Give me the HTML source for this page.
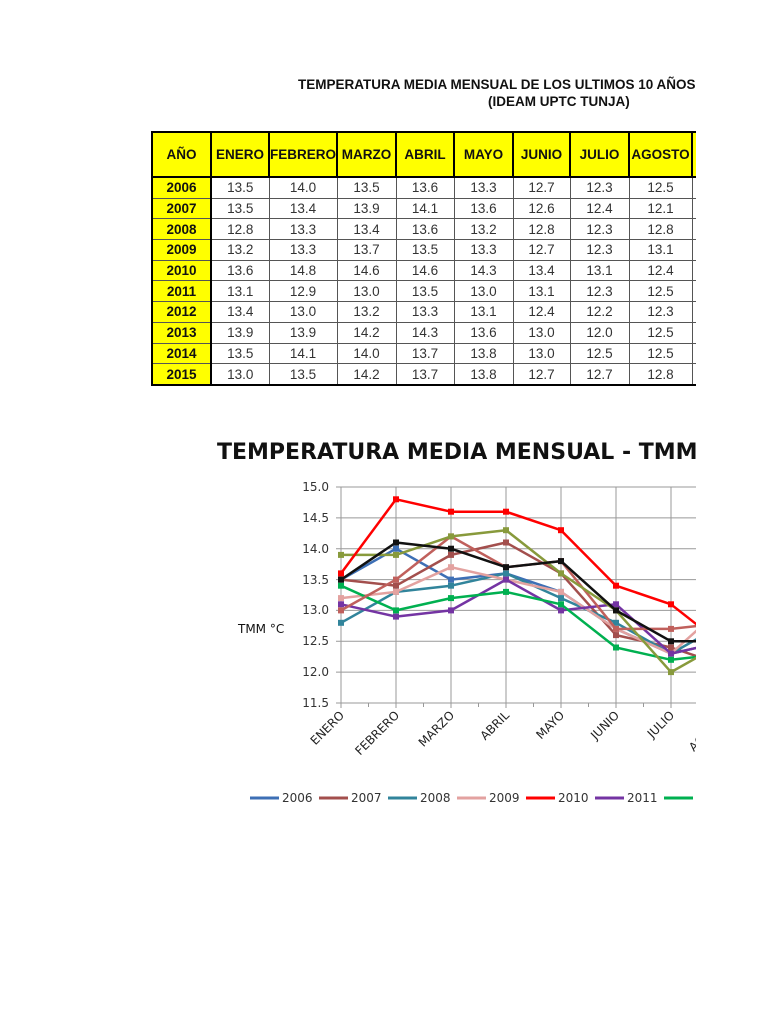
<!DOCTYPE html>
<html><head><meta charset="utf-8">
<style>
body{margin:0;background:#fff;width:768px;height:1024px;overflow:hidden;position:relative;font-family:"Liberation Sans",Arial,sans-serif}
#clip{position:absolute;left:0;top:0;width:696px;height:1024px;overflow:hidden}
.t1{position:absolute;left:298px;top:77px;font-weight:bold;font-size:13.5px;white-space:nowrap;color:#111}
.t2{position:absolute;left:488px;top:94px;font-weight:bold;font-size:13.5px;white-space:nowrap;color:#111}
table{position:absolute;left:151px;top:131px;border-collapse:collapse;table-layout:fixed;border:2px solid #000;width:600px}
td{border:1px solid #555;text-align:center;font-size:13.5px;color:#333;height:19.7px;padding:0;overflow:hidden;white-space:nowrap}
tr.h td{background:#ffff00;font-weight:bold;height:43px;border:2px solid #000;color:#111;font-size:13.5px}
td.y{background:#ffff00;font-weight:bold;color:#111;border-right:2px solid #000}
svg{position:absolute;left:0;top:0}
</style></head><body>
<div id="clip">
<div class="t1">TEMPERATURA MEDIA MENSUAL DE LOS ULTIMOS 10 AÑOS</div>
<div class="t2">(IDEAM UPTC TUNJA)</div>
<table>
<colgroup><col style="width:59px"><col style="width:58px"><col style="width:68px"><col style="width:59px"><col style="width:58px"><col style="width:59px"><col style="width:57px"><col style="width:59px"><col style="width:63px"><col style="width:60px"></colgroup>
<tr class="h"><td>AÑO</td><td>ENERO</td><td>FEBRERO</td><td>MARZO</td><td>ABRIL</td><td>MAYO</td><td>JUNIO</td><td>JULIO</td><td>AGOSTO</td><td>SEPT</td></tr>
<tr><td class="y">2006</td><td>13.5</td><td>14.0</td><td>13.5</td><td>13.6</td><td>13.3</td><td>12.7</td><td>12.3</td><td>12.5</td><td></td></tr>
<tr><td class="y">2007</td><td>13.5</td><td>13.4</td><td>13.9</td><td>14.1</td><td>13.6</td><td>12.6</td><td>12.4</td><td>12.1</td><td></td></tr>
<tr><td class="y">2008</td><td>12.8</td><td>13.3</td><td>13.4</td><td>13.6</td><td>13.2</td><td>12.8</td><td>12.3</td><td>12.8</td><td></td></tr>
<tr><td class="y">2009</td><td>13.2</td><td>13.3</td><td>13.7</td><td>13.5</td><td>13.3</td><td>12.7</td><td>12.3</td><td>13.1</td><td></td></tr>
<tr><td class="y">2010</td><td>13.6</td><td>14.8</td><td>14.6</td><td>14.6</td><td>14.3</td><td>13.4</td><td>13.1</td><td>12.4</td><td></td></tr>
<tr><td class="y">2011</td><td>13.1</td><td>12.9</td><td>13.0</td><td>13.5</td><td>13.0</td><td>13.1</td><td>12.3</td><td>12.5</td><td></td></tr>
<tr><td class="y">2012</td><td>13.4</td><td>13.0</td><td>13.2</td><td>13.3</td><td>13.1</td><td>12.4</td><td>12.2</td><td>12.3</td><td></td></tr>
<tr><td class="y">2013</td><td>13.9</td><td>13.9</td><td>14.2</td><td>14.3</td><td>13.6</td><td>13.0</td><td>12.0</td><td>12.5</td><td></td></tr>
<tr><td class="y">2014</td><td>13.5</td><td>14.1</td><td>14.0</td><td>13.7</td><td>13.8</td><td>13.0</td><td>12.5</td><td>12.5</td><td></td></tr>
<tr><td class="y">2015</td><td>13.0</td><td>13.5</td><td>14.2</td><td>13.7</td><td>13.8</td><td>12.7</td><td>12.7</td><td>12.8</td><td></td></tr>
</table>

<svg width="768" height="1024" id="s" font-family="DejaVu Sans, sans-serif">
<text x="217" y="459" font-size="22" font-weight="bold" fill="#111">TEMPERATURA MEDIA MENSUAL - TMM</text>
<g id="grid" stroke="#999" stroke-width="1"></g>
<g font-size="12" fill="#333" text-anchor="end">
<text x="329" y="491">15.0</text><text x="329" y="522">14.5</text><text x="329" y="553">14.0</text><text x="329" y="584">13.5</text><text x="329" y="614">13.0</text><text x="329" y="645">12.5</text><text x="329" y="676">12.0</text><text x="329" y="707">11.5</text>
</g>
<text x="238" y="633" font-size="12" fill="#111">TMM °C</text>
<g font-size="12" fill="#222" text-anchor="end">
<text transform="translate(345,716) rotate(-45)">ENERO</text>
<text transform="translate(400,716) rotate(-45)">FEBRERO</text>
<text transform="translate(455,716) rotate(-45)">MARZO</text>
<text transform="translate(510,716) rotate(-45)">ABRIL</text>
<text transform="translate(565,716) rotate(-45)">MAYO</text>
<text transform="translate(620,716) rotate(-45)">JUNIO</text>
<text transform="translate(675,716) rotate(-45)">JULIO</text>
<text transform="translate(730,716) rotate(-45)">AGOSTO</text>
</g>
<g id="lines" fill="none" stroke-width="2.5" stroke-linejoin="round"></g>
<g id="leg" font-size="12" fill="#333">
<text x="282" y="802">2006</text><text x="351" y="802">2007</text><text x="420" y="802">2008</text><text x="489" y="802">2009</text><text x="558" y="802">2010</text><text x="627" y="802">2011</text><text x="696" y="802">2012</text>
</g>
</svg>
</div>
<script>
var X=[341,396,451,506,561,616,671,726],top0=487,bot=703;
function Y(v){return top0+(15-v)/3.5*(bot-top0);}
var g=document.getElementById('grid'),h='';
for(var i=0;i<8;i++){var y=top0+i*(bot-top0)/7;h+='<line x1="336" x2="700" y1="'+y+'" y2="'+y+'"/>';}
for(var j=0;j<8;j++){h+='<line x1="'+X[j]+'" x2="'+X[j]+'" y1="'+top0+'" y2="'+(bot+5)+'"/>';}
for(var j=0;j<7;j++){var m=(X[j]+X[j+1])/2;h+='<line x1="'+m+'" x2="'+m+'" y1="'+bot+'" y2="'+(bot+4)+'"/>';}
g.innerHTML=h;
var D=[
["#3d6fb5",[13.5,14.0,13.5,13.6,13.3,12.7,12.3,12.5]],
["#a34f4d",[13.5,13.4,13.9,14.1,13.6,12.6,12.4,12.1]],
["#31849b",[12.8,13.3,13.4,13.6,13.2,12.8,12.3,12.8]],
["#e3a2a0",[13.2,13.3,13.7,13.5,13.3,12.7,12.3,13.1]],
["#7434a3",[13.1,12.9,13.0,13.5,13.0,13.1,12.3,12.5]],
["#00b050",[13.4,13.0,13.2,13.3,13.1,12.4,12.2,12.3]],
["#c0605c",[13.0,13.5,14.2,13.7,13.8,12.7,12.7,12.8]],
["#889a3c",[13.9,13.9,14.2,14.3,13.6,13.0,12.0,12.5]],
["#111111",[13.5,14.1,14.0,13.7,13.8,13.0,12.5,12.5]],
["#ff0000",[13.6,14.8,14.6,14.6,14.3,13.4,13.1,12.4]]];
var L='';
D.forEach(function(d){var p=d[1].map(function(v,k){return X[k]+','+Y(v).toFixed(1)}).join(' ');
L+='<polyline stroke="'+d[0]+'" points="'+p+'"/>';
d[1].forEach(function(v,k){L+='<rect x="'+(X[k]-3)+'" y="'+(Y(v)-3).toFixed(1)+'" width="6" height="6" fill="'+d[0]+'" stroke="none"/>';});});
document.getElementById('lines').innerHTML=L;
var lc=["#3d6fb5","#a34f4d","#31849b","#e3a2a0","#ff0000","#7434a3","#00b050"],lx=[250,319,388,457,526,595,664],G='';
for(var i=0;i<7;i++)G+='<line x1="'+lx[i]+'" x2="'+(lx[i]+29)+'" y1="798" y2="798" stroke="'+lc[i]+'" stroke-width="3"/>';
document.getElementById('leg').insertAdjacentHTML('beforeend',G);
</script>
</body></html>
